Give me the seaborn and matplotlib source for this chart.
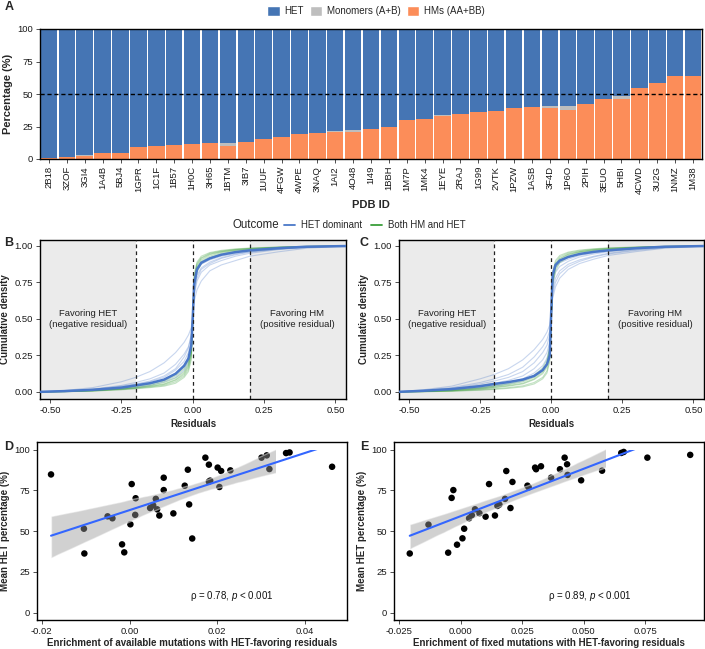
import numpy as np
import pandas as pd
import matplotlib
matplotlib.use("Agg")
import matplotlib.pyplot as plt
import seaborn as sns
from matplotlib.patches import Patch, Rectangle
from matplotlib.lines import Line2D
from matplotlib.ticker import FormatStrFormatter

sns.set_style("white")
plt.rcParams["font.family"] = ["Liberation Sans", "DejaVu Sans"]
plt.rcParams["axes.unicode_minus"] = False
plt.rcParams["mathtext.fontset"] = "custom"
plt.rcParams["mathtext.it"] = "Liberation Sans:italic"
plt.rcParams["mathtext.rm"] = "Liberation Sans"

# === DATA ===

# Panel A: composition of each complex
pdb_ids = ["2B18", "3ZOF", "3GI4", "1A4B", "5BJ4", "1GPR", "1C1F", "1B57", "1H0C", "3H65",
           "1BTM", "3IB7", "1UUF", "4FGW", "4WPE", "3NAQ", "1AI2", "4O48", "1I49", "1BBH",
           "1M7P", "1MK4", "1EYE", "2RAJ", "1G99", "2VTK", "1PZW", "1ASB", "3F4D", "1P6O",
           "2PIH", "3EUO", "5HBI", "4CWD", "3U2G", "1NMZ", "1M38"]
hm_pct = [1, 1.5, 2, 4.5, 4.5, 9, 10, 11, 11.5, 12,
          10, 13, 15.5, 17, 19, 20, 21, 21, 23, 25,
          30, 30.5, 33, 34.5, 36, 37, 39, 40, 39.5, 37.5,
          42, 46, 46.5, 54.5, 58.5, 63.5, 63.5]
mono_pct = [0, 0.3, 1, 0.3, 0.3, 0, 0.3, 0, 0, 0,
            2.5, 0, 0, 0, 0, 0, 0.5, 1, 0, 0,
            0, 0, 0.5, 0, 0, 0, 0.3, 0.3, 1, 3.5,
            0, 0, 2, 0.5, 0.3, 0, 0.5]

# Panels B/C: cumulative density of residuals
resid_x = [-0.55, -0.45, -0.35, -0.25, -0.2, -0.15, -0.1, -0.06, -0.03, -0.015, -0.005,
           0.0, 0.005, 0.015, 0.03, 0.06, 0.1, 0.15, 0.2, 0.3, 0.4, 0.55]

b_mean = [0.0, 0.006, 0.015, 0.03, 0.045, 0.06, 0.085, 0.125, 0.18, 0.23, 0.32,
          0.5, 0.74, 0.84, 0.885, 0.915, 0.94, 0.958, 0.97, 0.985, 0.995, 1.0]
b_het = [
    [0.0, 0.01, 0.03, 0.07, 0.1, 0.14, 0.2, 0.27, 0.34, 0.39, 0.44, 0.55, 0.62, 0.7, 0.76, 0.83, 0.87, 0.9, 0.93, 0.96, 0.985, 1.0],
    [0.0, 0.008, 0.02, 0.045, 0.065, 0.09, 0.13, 0.19, 0.26, 0.31, 0.38, 0.5, 0.66, 0.76, 0.82, 0.87, 0.9, 0.93, 0.95, 0.975, 0.99, 1.0],
    [0.0, 0.005, 0.015, 0.035, 0.05, 0.07, 0.1, 0.15, 0.21, 0.27, 0.35, 0.52, 0.7, 0.8, 0.85, 0.89, 0.92, 0.945, 0.96, 0.98, 0.993, 1.0],
    [0.0, 0.004, 0.012, 0.025, 0.04, 0.055, 0.08, 0.12, 0.17, 0.22, 0.3, 0.48, 0.72, 0.83, 0.875, 0.905, 0.93, 0.95, 0.965, 0.982, 0.994, 1.0],
    [0.0, 0.007, 0.018, 0.04, 0.055, 0.075, 0.11, 0.16, 0.24, 0.3, 0.4, 0.53, 0.68, 0.78, 0.84, 0.88, 0.915, 0.94, 0.958, 0.978, 0.992, 1.0],
    [0.0, 0.003, 0.01, 0.02, 0.03, 0.045, 0.07, 0.1, 0.15, 0.2, 0.28, 0.46, 0.75, 0.85, 0.89, 0.92, 0.94, 0.96, 0.97, 0.985, 0.995, 1.0],
]
b_both = [
    [0.0, 0.002, 0.006, 0.015, 0.022, 0.03, 0.04, 0.06, 0.1, 0.14, 0.22, 0.45, 0.8, 0.89, 0.93, 0.955, 0.97, 0.98, 0.986, 0.993, 0.998, 1.0],
    [0.0, 0.003, 0.008, 0.02, 0.028, 0.038, 0.052, 0.08, 0.12, 0.17, 0.26, 0.48, 0.77, 0.87, 0.915, 0.945, 0.962, 0.975, 0.982, 0.991, 0.997, 1.0],
    [0.0, 0.004, 0.01, 0.024, 0.035, 0.047, 0.065, 0.095, 0.14, 0.19, 0.28, 0.5, 0.74, 0.84, 0.895, 0.93, 0.955, 0.97, 0.978, 0.989, 0.996, 1.0],
    [0.0, 0.002, 0.007, 0.017, 0.025, 0.034, 0.046, 0.07, 0.11, 0.155, 0.24, 0.47, 0.79, 0.88, 0.92, 0.95, 0.966, 0.977, 0.984, 0.992, 0.997, 1.0],
    [0.0, 0.005, 0.012, 0.028, 0.04, 0.055, 0.075, 0.11, 0.16, 0.21, 0.3, 0.52, 0.72, 0.82, 0.88, 0.92, 0.948, 0.965, 0.975, 0.987, 0.995, 1.0],
    [0.0, 0.003, 0.009, 0.021, 0.03, 0.041, 0.056, 0.085, 0.13, 0.18, 0.27, 0.49, 0.76, 0.86, 0.905, 0.94, 0.96, 0.972, 0.98, 0.99, 0.996, 1.0],
]

c_mean = [0.0, 0.008, 0.02, 0.04, 0.055, 0.068, 0.085, 0.11, 0.15, 0.19, 0.25,
          0.55, 0.8, 0.87, 0.9, 0.925, 0.945, 0.96, 0.97, 0.985, 0.995, 1.0]
c_het = [
    [0.0, 0.015, 0.04, 0.09, 0.12, 0.16, 0.22, 0.29, 0.36, 0.41, 0.46, 0.56, 0.64, 0.72, 0.78, 0.84, 0.88, 0.91, 0.935, 0.962, 0.985, 1.0],
    [0.0, 0.01, 0.025, 0.055, 0.075, 0.1, 0.14, 0.2, 0.27, 0.32, 0.39, 0.52, 0.7, 0.78, 0.83, 0.875, 0.905, 0.93, 0.95, 0.975, 0.99, 1.0],
    [0.0, 0.008, 0.02, 0.045, 0.06, 0.08, 0.11, 0.16, 0.22, 0.27, 0.34, 0.5, 0.74, 0.82, 0.86, 0.895, 0.925, 0.945, 0.96, 0.98, 0.993, 1.0],
    [0.0, 0.006, 0.016, 0.035, 0.05, 0.065, 0.09, 0.13, 0.18, 0.23, 0.3, 0.47, 0.77, 0.85, 0.885, 0.91, 0.935, 0.952, 0.966, 0.983, 0.994, 1.0],
    [0.0, 0.012, 0.03, 0.065, 0.09, 0.12, 0.17, 0.24, 0.31, 0.36, 0.42, 0.54, 0.67, 0.75, 0.81, 0.86, 0.895, 0.925, 0.945, 0.97, 0.988, 1.0],
    [0.0, 0.005, 0.013, 0.028, 0.04, 0.055, 0.075, 0.11, 0.15, 0.2, 0.27, 0.45, 0.79, 0.86, 0.895, 0.925, 0.945, 0.96, 0.972, 0.986, 0.995, 1.0],
]
c_both = [
    [0.0, 0.002, 0.005, 0.012, 0.018, 0.025, 0.035, 0.055, 0.09, 0.13, 0.21, 0.45, 0.82, 0.9, 0.935, 0.958, 0.972, 0.981, 0.987, 0.993, 0.998, 1.0],
    [0.0, 0.003, 0.008, 0.02, 0.03, 0.04, 0.055, 0.085, 0.125, 0.17, 0.26, 0.5, 0.78, 0.87, 0.915, 0.945, 0.962, 0.975, 0.982, 0.991, 0.997, 1.0],
    [0.0, 0.004, 0.011, 0.026, 0.038, 0.05, 0.07, 0.1, 0.145, 0.195, 0.29, 0.52, 0.75, 0.85, 0.9, 0.935, 0.957, 0.97, 0.978, 0.989, 0.996, 1.0],
    [0.0, 0.002, 0.006, 0.015, 0.022, 0.03, 0.042, 0.065, 0.1, 0.145, 0.23, 0.47, 0.8, 0.885, 0.925, 0.952, 0.967, 0.978, 0.985, 0.992, 0.997, 1.0],
    [0.0, 0.005, 0.013, 0.03, 0.043, 0.058, 0.08, 0.115, 0.165, 0.22, 0.31, 0.53, 0.73, 0.83, 0.885, 0.925, 0.95, 0.966, 0.976, 0.988, 0.995, 1.0],
    [0.0, 0.003, 0.009, 0.022, 0.032, 0.044, 0.06, 0.09, 0.135, 0.185, 0.28, 0.5, 0.77, 0.865, 0.91, 0.942, 0.96, 0.973, 0.981, 0.99, 0.996, 1.0],
]

# Panel D: available mutations enrichment vs mean HET %
avail_enrich = [-0.0179, -0.0104, -0.0103, -0.0050, -0.0039, -0.0017, -0.0012, 0.0002, 0.0005, 0.0014,
                0.0013, 0.0047, 0.0054, 0.0060, 0.0063, 0.0068, 0.0078, 0.0078, 0.0100, 0.0126,
                0.0133, 0.0136, 0.0143, 0.0173, 0.0181, 0.0181, 0.0184, 0.0201, 0.0205, 0.0209,
                0.0230, 0.0301, 0.0313, 0.0319, 0.0357, 0.0365, 0.0462]
avail_het = [84.8, 51.5, 36.3, 59.1, 57.9, 41.9, 37.0, 54.2, 78.9, 70.2,
             60.0, 64.2, 65.8, 69.8, 63.4, 59.6, 82.8, 75.2, 60.9, 77.9,
             87.7, 66.4, 45.5, 95.1, 90.8, 80.4, 81.0, 89.0, 77.1, 86.9,
             87.3, 95.1, 96.5, 88.1, 97.9, 98.3, 89.5]

# Panel E: fixed mutations enrichment vs mean HET %
fixed_enrich = [-0.0207, -0.0131, -0.0051, -0.0037, -0.0030, -0.0015, 0.0007, 0.0014, 0.0034, 0.0045,
                0.0058, 0.0076, 0.0101, 0.0115, 0.0139, 0.0149, 0.0157, 0.0180, 0.0185, 0.0202,
                0.0210, 0.0271, 0.0276, 0.0302, 0.0306, 0.0326, 0.0367, 0.0403, 0.0422, 0.0432,
                0.0434, 0.0489, 0.0574, 0.0652, 0.0662, 0.0758, 0.0932]
fixed_het = [36.3, 54.0, 36.8, 70.4, 75.2, 41.7, 45.6, 51.5, 57.9, 59.8,
             63.4, 61.0, 58.9, 78.9, 59.6, 65.5, 66.3, 69.8, 86.9, 64.2,
             80.2, 77.9, 76.9, 89.0, 88.0, 89.8, 82.8, 88.0, 95.1, 91.0,
             84.5, 81.2, 87.1, 98.0, 98.6, 95.1, 96.8]

# === STYLE ===
HET_COL = "#4575B4"
MONO_COL = "#BEBEBE"
HM_COL = "#FC8D59"
LINE_BLUE = "#4A78C8"
LINE_GREEN = "#3A9E3A"
SHADE = "#EBEBEB"
TICK_FS = 6.8
LAB_FS = 7.0

W, H = 705, 649
fig = plt.figure(figsize=(W / 100, H / 100), dpi=100)


def px_axes(left, top, right, bottom):
    return fig.add_axes([left / W, 1 - bottom / H, (right - left) / W, (bottom - top) / H])


def style_axes(ax):
    for sp in ax.spines.values():
        sp.set_visible(True)
        sp.set_color("black")
        sp.set_linewidth(1.0)
    ax.tick_params(axis="both", direction="out", length=3, width=0.6, color="#333333",
                   labelsize=TICK_FS, labelcolor="#1a1a1a", pad=2, bottom=True, left=True)


# === PANEL A ===
ax_a = px_axes(40, 29, 702, 159)
df_a = pd.DataFrame({"pdb": pdb_ids, "hm": hm_pct, "mono": mono_pct})
df_a["het"] = 100 - df_a["hm"] - df_a["mono"]
df_a["top_het"] = df_a["hm"] + df_a["mono"] + df_a["het"]
df_a["top_mono"] = df_a["hm"] + df_a["mono"]

sns.barplot(data=df_a, x="pdb", y="top_het", color=HET_COL, width=0.92, linewidth=0,
            saturation=1, ax=ax_a)
sns.barplot(data=df_a, x="pdb", y="top_mono", color=MONO_COL, width=0.92, linewidth=0,
            saturation=1, ax=ax_a)
sns.barplot(data=df_a, x="pdb", y="hm", color=HM_COL, width=0.92, linewidth=0,
            saturation=1, ax=ax_a)
ax_a.axhline(50, color="black", lw=1.0, ls=(0, (3, 2)), zorder=5)
ax_a.set_xlim(-0.5, len(pdb_ids) - 0.5)
ax_a.set_ylim(0, 100)
ax_a.set_yticks([0, 25, 50, 75, 100])
style_axes(ax_a)
ax_a.tick_params(axis="x", labelrotation=90)
ax_a.set_xlabel("PDB ID", fontsize=8, fontweight="bold", labelpad=4)
ax_a.set_ylabel("Percentage (%)", fontsize=8, fontweight="bold", labelpad=3)

fig.legend(handles=[Patch(facecolor=HET_COL, label="HET"),
                    Patch(facecolor=MONO_COL, label="Monomers (A+B)"),
                    Patch(facecolor=HM_COL, label="HMs (AA+BB)")],
           loc="center", bbox_to_anchor=(376 / W, 1 - 11 / H), ncol=3, frameon=False,
           fontsize=7, handlelength=1.3, handleheight=1.3, handletextpad=0.5,
           columnspacing=0.6, borderaxespad=0)

# === PANELS B / C ===


def ecdf_panel(ax, mean_y, het_curves, both_curves):
    rows = []
    for i, ys in enumerate(het_curves):
        for x, y in zip(resid_x, ys):
            rows.append({"x": x, "y": y, "curve": f"h{i}", "Outcome": "HET dominant"})
    for i, ys in enumerate(both_curves):
        for x, y in zip(resid_x, ys):
            rows.append({"x": x, "y": y, "curve": f"b{i}", "Outcome": "Both HM and HET"})
    df = pd.DataFrame(rows)
    ax.axvspan(-1, -0.2, color=SHADE, zorder=0, lw=0)
    ax.axvspan(0.2, 1, color=SHADE, zorder=0, lw=0)
    sns.lineplot(data=df, x="x", y="y", hue="Outcome", units="curve", estimator=None,
                 palette={"HET dominant": LINE_BLUE, "Both HM and HET": LINE_GREEN},
                 alpha=0.3, lw=0.8, legend=False, ax=ax)
    sns.lineplot(x=resid_x, y=mean_y, color=LINE_BLUE, lw=1.8, ax=ax, zorder=4)
    for v in (-0.2, 0, 0.2):
        ax.axvline(v, color="#222222", lw=0.9, ls=(0, (3, 2.5)), zorder=5)
    ax.text(-0.365, 0.5, "Favoring HET\n(negative residual)", ha="center", va="center",
            fontsize=6.8, linespacing=1.4, color="#222222")
    ax.text(0.365, 0.5, "Favoring HM\n(positive residual)", ha="center", va="center",
            fontsize=6.8, linespacing=1.4, color="#222222")
    ax.set_xlim(-0.535, 0.537)
    ax.set_ylim(-0.048, 1.041)
    ax.set_xticks([-0.5, -0.25, 0, 0.25, 0.5])
    ax.set_yticks([0, 0.25, 0.5, 0.75, 1.0])
    ax.xaxis.set_major_formatter(FormatStrFormatter("%.2f"))
    ax.yaxis.set_major_formatter(FormatStrFormatter("%.2f"))
    style_axes(ax)
    ax.set_xlabel("Residuals", fontsize=LAB_FS, fontweight="bold", labelpad=3)
    ax.set_ylabel("Cumulative density", fontsize=LAB_FS, fontweight="bold", labelpad=3)


ax_b = px_axes(40, 240, 346, 399)
ecdf_panel(ax_b, b_mean, b_het, b_both)
ax_c = px_axes(399, 240, 704, 399)
ecdf_panel(ax_c, c_mean, c_het, c_both)

fig.text(233 / W, 1 - 225 / H, "Outcome", fontsize=8.3, ha="left", va="center")
fig.legend(handles=[Line2D([], [], color=LINE_BLUE, lw=1.3, label="HET dominant"),
                    Line2D([], [], color=LINE_GREEN, lw=1.3, label="Both HM and HET")],
           loc="center left", bbox_to_anchor=(284 / W, 1 - 225 / H), ncol=2, frameon=False,
           fontsize=6.9, handlelength=1.1, handletextpad=0.7, columnspacing=0.9,
           borderaxespad=0, borderpad=0)

# === PANELS D / E ===


def scatter_panel(ax, xs, ys, xlim, xticks, fmt, xlabel, rho_text, text_x):
    df = pd.DataFrame({"x": xs, "y": ys})
    sns.scatterplot(data=df, x="x", y="y", color="black", s=22, edgecolor="none",
                    ax=ax, zorder=2)
    n_before = len(ax.collections)
    sns.regplot(data=df, x="x", y="y", scatter=False, ci=95, color="#3366FF",
                line_kws={"lw": 1.5, "zorder": 4}, ax=ax)
    # values beyond 100 % are dropped: the band stops where its top passes 100
    line_clip = Rectangle((-1, -10), 2, 110, transform=ax.transData)
    for coll in ax.collections[n_before:]:
        verts = coll.get_paths()[0].vertices
        over = verts[verts[:, 1] > 100, 0]
        band_end = over.min() if len(over) else 1
        band_clip = Rectangle((-1, -10), band_end + 1, 120, transform=ax.transData)
        coll.set_facecolor("#999999")
        coll.set_alpha(0.45)
        coll.set_zorder(3)
        coll.set_clip_path(band_clip)
    ax.lines[-1].set_clip_path(line_clip)
    ax.text(text_x, 10, rho_text, ha="center", va="center", fontsize=7, color="#111111")
    ax.set_xlim(*xlim)
    ax.set_ylim(-4.5, 104.7)
    ax.set_xticks(xticks)
    ax.set_yticks([0, 25, 50, 75, 100])
    ax.xaxis.set_major_formatter(FormatStrFormatter(fmt))
    style_axes(ax)
    ax.set_xlabel(xlabel, fontsize=LAB_FS, fontweight="bold", labelpad=1.5)
    ax.set_ylabel("Mean HET percentage (%)", fontsize=LAB_FS, fontweight="bold", labelpad=3)


ax_d = px_axes(37, 442, 347, 620)
scatter_panel(ax_d, avail_enrich, avail_het, (-0.0211, 0.0496), [-0.02, 0, 0.02, 0.04], "%.2f",
              "Enrichment of available mutations with HET-favoring residuals",
              r"ρ = 0.78, $p$ < 0.001", 0.0234)
ax_e = px_axes(394, 442, 704, 620)
scatter_panel(ax_e, fixed_enrich, fixed_het, (-0.0271, 0.0988), [-0.025, 0, 0.025, 0.05, 0.075],
              "%.3f", "Enrichment of fixed mutations with HET-favoring residuals",
              r"ρ = 0.89, $p$ < 0.001", 0.0524)

# panel letters
for letter, (lx, ly) in {"A": (5, 7), "B": (4, 243), "C": (360, 243),
                         "D": (4, 447), "E": (360, 447)}.items():
    fig.text(lx / W, 1 - ly / H, letter, fontsize=9, fontweight="bold", ha="left", va="center")

fig.savefig("out.png", dpi=100)
